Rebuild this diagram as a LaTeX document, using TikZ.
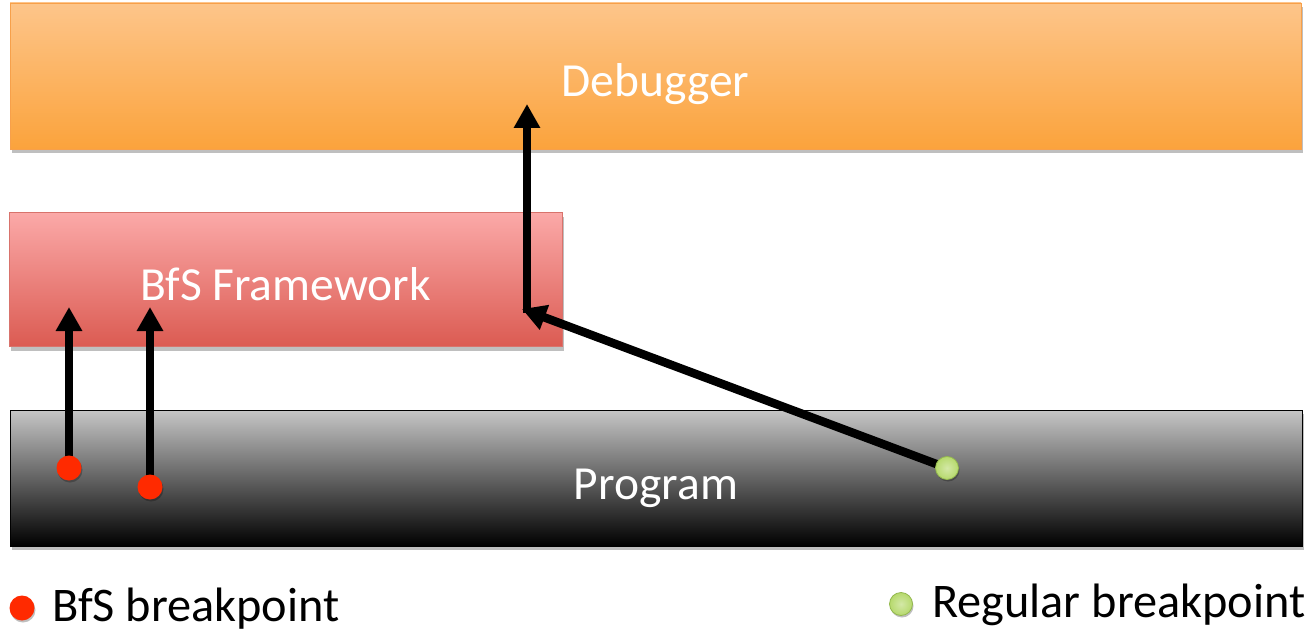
\documentclass[tikz,border=0pt]{standalone}
\usepackage{fontspec}
\setmainfont{Carlito}
\usetikzlibrary{arrows.meta,shadows}
\definecolor{orTop}{HTML}{FDC58A}
\definecolor{orBot}{HTML}{FBA33C}
\definecolor{orLine}{HTML}{F7A04A}
\definecolor{rdTop}{HTML}{FBA9A8}
\definecolor{rdBot}{HTML}{DB5B52}
\definecolor{rdLine}{HTML}{D8736C}
\definecolor{gyTop}{HTML}{C6C6C6}
\definecolor{bpRed}{HTML}{FF2A00}
\definecolor{bpGreen}{HTML}{B6D96C}
\definecolor{bpGreenLine}{HTML}{93B84E}
\tikzset{
  layerbox/.style={rectangle, draw, line width=0.8pt, inner sep=0pt,
    text=white, font=\fontsize{47.5}{50}\selectfont, text height=52pt, text depth=10pt,
    drop shadow={shadow xshift=2pt, shadow yshift=-4pt, opacity=0.25, fill=black}},
  arr/.style={line width=8.5pt, -{Triangle[length=24pt,width=25pt]}},
  reddot/.style={circle, fill=bpRed, inner sep=0pt, minimum size=25pt,
    drop shadow={shadow xshift=1pt, shadow yshift=-2pt, opacity=0.25, fill=black}},
  greendot/.style={circle, inner color=bpGreen!60!white, outer color=bpGreen, draw=bpGreenLine, line width=0.8pt, inner sep=0pt, minimum size=23pt,
    drop shadow={shadow xshift=1pt, shadow yshift=-2pt, opacity=0.25, fill=black}},
  legend/.style={anchor=west, inner sep=0pt, font=\fontsize{48.3}{50}\selectfont, text=black}
}
\begin{document}
\begin{tikzpicture}[x=1pt,y=-1pt]
\useasboundingbox (0,0) rectangle (1308,631);
% layers
\node[layerbox, draw=orLine, top color=orTop, bottom color=orBot,
  minimum width=1291pt, minimum height=146pt] (dbg) at (655.5,76) {Debugger};
\node[layerbox, draw=rdLine, top color=rdTop, bottom color=rdBot,
  minimum width=553pt, minimum height=134pt] (bfs) at (285.5,279.5) {BfS Framework};
\node[layerbox, draw=black, top color=gyTop, bottom color=black,
  minimum width=1292pt, minimum height=136pt] (prog) at (656,478) {Program};
% coordinates
\coordinate (p1) at (69,468);
\coordinate (p2) at (150,487);
\coordinate (p3) at (947,468);
\coordinate (t1) at (69,307);
\coordinate (t2) at (150,307);
\coordinate (t3) at (522,309);
\coordinate (b4) at (527,313);
\coordinate (t4) at (527,104);
% arrows
\draw[arr] (p1) -- (t1);
\draw[arr] (p2) -- (t2);
\draw[arr] (p3) -- (t3);
\draw[arr] (b4) -- (t4);
% breakpoints
\node[reddot] (r1) at (p1) {};
\node[reddot] (r2) at (p2) {};
\node[greendot] (g1) at (p3) {};
% legend
\node[reddot] (lr) at (22,608) {};
\node[legend] (lrt) at (52,609) {BfS breakpoint};
\node[greendot] (lg) at (901,604) {};
\node[legend] (lgt) at (932,605) {Regular breakpoint};
\end{tikzpicture}
\end{document}
